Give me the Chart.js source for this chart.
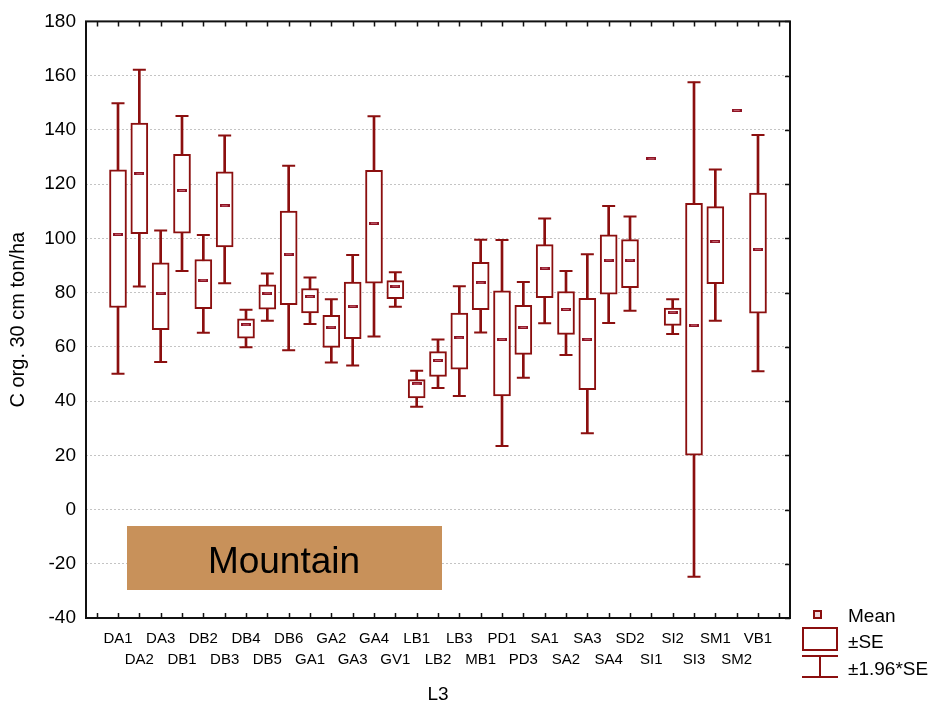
<!DOCTYPE html>
<html>
<head>
<meta charset="utf-8">
<script src="https://cdn.jsdelivr.net/npm/chart.js@4.4.1/dist/chart.umd.min.js"></script>
<style>
  body { margin: 0; background: #fff; }
  #wrap { width: 938px; height: 706px; }
</style>
</head>
<body>
<div id="wrap"><canvas id="myChart"></canvas></div>
<script>
const categories = ['DA1','DA2','DA3','DB1','DB2','DB3','DB4','DB5','DB6','GA1','GA2','GA3','GA4','GV1','LB1','LB2','LB3','MB1','PD1','PD3','SA1','SA2','SA3','SA4','SD2','SI1','SI2','SI3','SM1','SM2','VB1'];
const means = [101.5, 123.8, 79.8, 117.6, 84.6, 112, 68.1, 79.8, 94.2, 78.5, 67.3, 75, 105.6, 82.4, 46.3, 55, 63.3, 83.6, 62.8, 67.2, 89, 73.8, 62.8, 92, 92, 129.3, 72.8, 68, 98.8, 147.2, 96];
const seHigh = [125.3, 142.5, 91, 131, 92.2, 124.5, 70.3, 82.9, 110.1, 81.5, 71.6, 83.9, 125.1, 84.4, 47.9, 58.2, 72.4, 91.2, 80.6, 75.3, 97.7, 80.4, 77.9, 101.3, 99.5, null, 74.3, 112.9, 111.7, null, 116.7];
const seLow = [74.5, 101.7, 66.3, 101.9, 74.1, 96.8, 63.2, 73.9, 75.5, 72.5, 59.8, 63, 83.5, 77.8, 41.2, 49.1, 51.8, 73.7, 41.9, 57.2, 78.1, 64.6, 44.2, 79.4, 81.8, null, 67.9, 20, 83.3, null, 72.4];
const ciHigh = [149.8, 162.2, 102.9, 145.1, 101.2, 137.9, 73.7, 87, 126.8, 85.6, 77.5, 93.9, 145, 87.5, 51.2, 62.7, 82.3, 99.5, 99.4, 83.9, 107.3, 88, 94.1, 111.9, 108.1, null, 77.5, 157.6, 125.4, null, 138.1];
const ciLow = [50.1, 82.2, 54.4, 88, 65.2, 83.4, 59.8, 69.6, 58.7, 68.4, 54.2, 53.1, 63.8, 74.8, 37.9, 44.8, 41.9, 65.3, 23.4, 48.6, 68.7, 57, 28.1, 68.8, 73.3, null, 64.7, -24.8, 69.6, null, 51];

const DARK = '#8b0f0f';
const FONT = '"Liberation Sans", Arial, sans-serif';
Chart.defaults.font.family = FONT;
Chart.defaults.color = '#000';

// one empty slot on each side of the categories
const pad = (arr) => [null, ...arr, null];
const labels = ['', ...categories, ''];
const boxes = pad(seLow.map((v, i) => (v == null ? null : [v, seHigh[i]])));
const whiskers = pad(ciLow.map((v, i) => (v == null ? null : [v, ciHigh[i]])));

const meanMark = document.createElement('canvas');
meanMark.width = 10;
meanMark.height = 3;
const mctx = meanMark.getContext('2d');
mctx.fillStyle = '#8e1424';
mctx.fillRect(0, 0, 10, 3);
mctx.fillStyle = '#c86a78';
mctx.fillRect(2, 1, 6, 1);

const decor = {
  id: 'decor',
  beforeDatasetsDraw(chart) {
    const ctx = chart.ctx;
    ctx.save();
    ctx.fillStyle = '#c8915a';
    ctx.fillRect(127, 526, 315, 64);
    ctx.fillStyle = '#000';
    ctx.font = '37px ' + FONT;
    ctx.textAlign = 'center';
    ctx.textBaseline = 'alphabetic';
    ctx.fillText('Mountain', 284, 573);
    ctx.restore();
  },
  afterDraw(chart) {
    const { ctx, chartArea: a, scales } = chart;
    ctx.save();
    ctx.strokeStyle = '#111';
    ctx.lineWidth = 2;
    ctx.strokeRect(a.left, a.top, a.right - a.left, a.bottom - a.top);
    ctx.lineWidth = 1.5;
    ctx.beginPath();
    labels.forEach((l, i) => {
      const px = Math.round(scales.x.getPixelForTick(i)) + 0.5;
      ctx.moveTo(px, a.top); ctx.lineTo(px, a.top + 5);
      ctx.moveTo(px, a.bottom); ctx.lineTo(px, a.bottom - 5);
    });
    scales.y.ticks.forEach((t) => {
      const py = Math.round(scales.y.getPixelForValue(t.value)) + 0.5;
      ctx.moveTo(a.right, py); ctx.lineTo(a.right - 5, py);
    });
    ctx.stroke();

    // legend
    ctx.strokeStyle = DARK;
    ctx.lineWidth = 2;
    ctx.fillStyle = '#f2dadd';
    ctx.fillRect(814, 611, 7, 7);
    ctx.strokeRect(814, 611, 7, 7);
    ctx.strokeRect(803, 628, 34, 22);
    ctx.beginPath();
    ctx.moveTo(802, 656); ctx.lineTo(838, 656);
    ctx.moveTo(802, 677); ctx.lineTo(838, 677);
    ctx.moveTo(820, 656); ctx.lineTo(820, 677);
    ctx.stroke();
    ctx.fillStyle = '#000';
    ctx.font = '19px ' + FONT;
    ctx.textAlign = 'left';
    ctx.textBaseline = 'alphabetic';
    ctx.fillText('Mean', 848, 622);
    ctx.fillText('\u00b1SE', 848, 648);
    ctx.fillText('\u00b11.96*SE', 848, 675);
    ctx.restore();
  }
};

const ctx = document.getElementById('myChart').getContext('2d');
const myChart = new Chart(ctx, {
  type: 'bar',
  data: {
    labels: labels,
    datasets: [
      {
        type: 'line', label: 'Mean', data: pad(means), showLine: false,
        pointStyle: meanMark, pointRadius: 5, order: 0
      },
      {
        type: 'line', label: 'cap high', data: pad(ciHigh), showLine: false,
        pointStyle: 'line', pointRadius: 6.5, pointBorderWidth: 2, pointBorderColor: DARK, order: 1
      },
      {
        type: 'line', label: 'cap low', data: pad(ciLow), showLine: false,
        pointStyle: 'line', pointRadius: 6.5, pointBorderWidth: 2, pointBorderColor: DARK, order: 1
      },
      {
        label: '\u00b1SE', data: boxes, grouped: false, barThickness: 17,
        backgroundColor: '#fff', borderColor: DARK, borderWidth: 2, borderSkipped: false, order: 2
      },
      {
        label: '\u00b11.96*SE', data: whiskers, grouped: false, barThickness: 2,
        backgroundColor: DARK, borderWidth: 0, order: 3
      }
    ]
  },
  options: {
    responsive: true,
    maintainAspectRatio: false,
    animation: false,
    events: [],
    layout: { padding: { top: 14, right: 148, left: 0, bottom: 0 } },
    plugins: {
      legend: { display: false },
      tooltip: { enabled: false }
    },
    scales: {
      x: {
        offset: true,
        grid: { display: false, drawTicks: false },
        border: { display: false },
        ticks: {
          autoSkip: false, maxRotation: 0, minRotation: 0, padding: 10,
          font: { size: 15, lineHeight: 1.4 },
          callback: function (value, index) {
            const l = labels[index];
            if (!l) return '';
            return index % 2 === 1 ? l : ['', l];
          }
        },
        title: { display: true, text: 'L3', font: { size: 19 }, padding: { top: 0, bottom: 0 } },
        afterFit: (scale) => { scale.height = 88; }
      },
      y: {
        min: -40,
        max: 180,
        grid: { color: '#c4c4c4', lineWidth: 1, drawTicks: false },
        border: { display: false, dash: [2, 2] },
        ticks: { stepSize: 20, padding: 10, font: { size: 19 } },
        title: { display: true, text: 'C org. 30 cm ton/ha', font: { size: 20 }, padding: { top: 6, bottom: 0 } },
        afterFit: (scale) => { scale.width = 86; }
      }
    }
  },
  plugins: [decor]
});
</script>
</body>
</html>
